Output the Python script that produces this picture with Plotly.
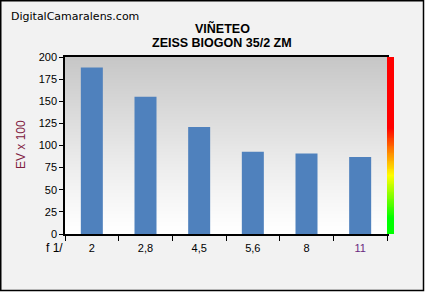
import plotly.graph_objects as go

# Data
apertures = ["2", "2,8", "4,5", "5,6", "8", "11"]
ev_x100 = [188, 155, 121, 93, 91, 87]
y_ticks = [0, 25, 50, 75, 100, 125, 150, 175, 200]

W, H = 426, 294
L, R, T, B = 65, 32, 57, 60
pw = W - L - R
ph = H - T - B
split = (387 - L) / pw

def px_x(p):
    return (p - L) / pw

def px_y(p):
    return (H - B - p) / ph

# background gradient (grey at top -> white at bottom)
n = 178
edges = [200 * i / n for i in range(n + 1)]
centers = [(edges[i] + edges[i + 1]) / 2 for i in range(n)]
bg_z = [[255 - 57 * (c / 200) ** 1.15] for c in centers]

# colour scale bar at right
cb_edges = [i for i in range(201)]
cb_z = [[i + 0.5] for i in range(200)]

fig = go.Figure()
fig.add_trace(go.Heatmap(
    x=[-0.5, 5.5], y=edges, z=bg_z,
    colorscale=[[0, "rgb(198,198,198)"], [1, "rgb(255,255,255)"]],
    zmin=198, zmax=255, showscale=False, hoverinfo="skip", xaxis="x", yaxis="y"))
fig.add_trace(go.Bar(
    x=list(range(len(apertures))), y=ev_x100, width=0.41,
    marker=dict(color="#4F81BD", line=dict(width=0)), xaxis="x", yaxis="y"))
fig.add_trace(go.Heatmap(
    x=[0, 1], y=cb_edges, z=cb_z,
    colorscale=[[0, "#00ff00"], [0.09, "#00ff00"], [0.33, "#ffff00"],
                [0.47, "#ff8000"], [0.6, "#ff0000"], [1, "#ff0000"]],
    zmin=0, zmax=200, showscale=False, hoverinfo="skip", xaxis="x2", yaxis="y"))

ticktext = apertures[:-1] + ["<span style='color:#6a2a80'>" + apertures[-1] + "</span>"]

fig.update_layout(
    width=W, height=H,
    margin=dict(l=L, r=R, t=T, b=B, pad=0),
    paper_bgcolor="white",
    plot_bgcolor="rgba(0,0,0,0)",
    showlegend=False,
    font=dict(family="Liberation Sans, Arial", size=11, color="black"),
    xaxis=dict(domain=[0, split], range=[-0.5, 5.5], tickvals=list(range(6)), ticktext=ticktext,
               ticks="", showline=True, linecolor="black", linewidth=1.5, mirror=True,
               showgrid=False, zeroline=False, fixedrange=True, ticklabelstandoff=3,
               minor=dict(tickmode="array", tickvals=[i - 0.5 for i in range(7)],
                          ticks="outside", ticklen=5, tickcolor="black", tickwidth=1, showgrid=False),
               tickfont=dict(size=11)),
    xaxis2=dict(domain=[split, 1], range=[0, 1], anchor="y", visible=False, showgrid=False),
    yaxis=dict(range=[0, 200], tickvals=y_ticks, ticks="outside", ticklen=4, tickcolor="black",
               showline=True, linecolor="black", linewidth=1.5, mirror=True,
               showgrid=False, zeroline=False, tickfont=dict(size=11)),
    shapes=[dict(type="rect", xref="paper", yref="paper",
                 x0=px_x(0.75), x1=px_x(423.5), y0=px_y(290.5), y1=px_y(0.75),
                 fillcolor="#f2f2f2", line=dict(color="black", width=1.5), layer="below")],
    annotations=[
        dict(text="DigitalCamaralens.com", xref="paper", yref="paper", x=px_x(9), y=px_y(16),
             xanchor="left", yanchor="middle", showarrow=False,
             font=dict(family="DejaVu Sans", size=11, color="black")),
        dict(text="<b>VIÑETEO</b>", xref="paper", yref="paper", x=px_x(222), y=px_y(29),
             xanchor="center", yanchor="middle", showarrow=False, font=dict(size=12.5)),
        dict(text="<b>ZEISS BIOGON 35/2 ZM</b>", xref="paper", yref="paper", x=px_x(222), y=px_y(43),
             xanchor="center", yanchor="middle", showarrow=False, font=dict(size=12.5)),
        dict(text="EV x 100", xref="paper", yref="paper", x=px_x(21), y=px_y(145),
             xanchor="center", yanchor="middle", textangle=-90, showarrow=False,
             font=dict(size=12, color="#80203f")),
        dict(text="f 1/", xref="paper", yref="paper", x=px_x(54), y=px_y(248),
             xanchor="center", yanchor="middle", showarrow=False, font=dict(size=12)),
    ],
)

fig.write_html("out.html")
